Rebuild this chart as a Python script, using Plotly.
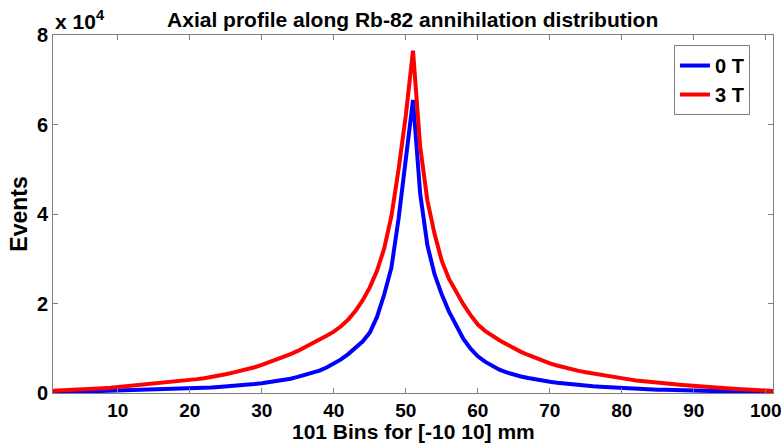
import plotly.graph_objects as go

bins = list(range(1, 102))

# Events (counts) per bin, 0 T
events_0T = [
    100, 150, 200, 200, 250, 300, 300, 350, 380, 400,
    450, 500, 550, 600, 650, 700, 750, 850, 920, 1000,
    1080, 1150, 1250, 1350, 1450, 1550, 1700, 1850, 2000, 2200,
    2400, 2600, 2900, 3200, 3600, 4000, 4400, 5000, 5700, 6500,
    7500, 8700, 10000, 11500, 13500, 17000, 22000, 28000, 39000, 52000,
    65500,
    44500, 33000, 26500, 22000, 18200, 14900, 12100, 9900, 8200,
    7000, 6000, 5200, 4600, 4100, 3700, 3350, 3000, 2750, 2500,
    2300, 2100, 1950, 1800, 1650, 1500, 1400, 1300, 1150, 1050,
    950, 900, 850, 800, 750, 700, 650, 600, 550, 500,
    450, 400, 350, 300, 300, 250, 200, 200, 150, 100, 100,
]

# Events (counts) per bin, 3 T
events_3T = [
    500, 550, 600, 700, 800, 880, 950, 1050, 1150, 1300,
    1420, 1550, 1700, 1850, 2000, 2150, 2300, 2500, 2700, 2900,
    3100, 3300, 3550, 3850, 4200, 4550, 4900, 5300, 5750, 6300,
    6850, 7400, 8000, 8700, 9400, 10200, 11000, 11900, 12800, 13700,
    14900, 16400, 18300, 20700, 23600, 27300, 32300, 39500, 50000, 62000,
    76500,
    55000, 43000, 35500, 29500, 25500, 22500, 19800, 17400, 15300,
    13900, 12800, 11800, 10900, 10000, 9200, 8500, 7800, 7200, 6600,
    6150, 5700, 5300, 4950, 4650, 4350, 4050, 3800, 3550, 3300,
    3050, 2800, 2600, 2450, 2300, 2150, 2000, 1850, 1700, 1600,
    1450, 1350, 1250, 1150, 1000, 900, 800, 700, 600, 500, 450,
]

series_names = ["0 T", "3 T"]
series_colors = ["#0000ff", "#ff0000"]

x_tick_vals = [10, 20, 30, 40, 50, 60, 70, 80, 90, 100]
y_tick_vals = [0, 20000, 40000, 60000, 80000]
y_tick_text = ["0", "2", "4", "6", "8"]

title_text = "Axial profile along Rb-82 annihilation distribution"
x_title = "101 Bins for [-10 10] mm"
y_title = "Events"
exponent_text = "x 10<sup>4</sup>"

FONT = "Liberation Sans, Arial, sans-serif"

fig = go.Figure()
for name, ys, col in zip(series_names, [events_0T, events_3T], series_colors):
    fig.add_trace(go.Scatter(x=bins, y=ys, mode="lines", name=name,
                             line=dict(color=col, width=4)))

axis_common = dict(
    showline=True, linecolor="#7f7f7f", linewidth=1, mirror="ticks",
    ticks="inside", ticklen=5, tickcolor="#7f7f7f", tickwidth=1,
    showgrid=False, zeroline=False, automargin=False,
)

fig.update_layout(
    width=783, height=444,
    margin=dict(l=53, r=10, t=35, b=51, autoexpand=False),
    paper_bgcolor="white", plot_bgcolor="white",
    title=dict(text=title_text, x=0.527, xanchor="center", y=0.972, yanchor="top",
               font=dict(family=FONT, size=21, color="black", weight="bold")),
    xaxis=dict(range=[1, 101], tickvals=x_tick_vals,
               tickfont=dict(family=FONT, size=19, color="black", weight="bold"),
               **axis_common),
    yaxis=dict(range=[0, 80000], tickvals=y_tick_vals, ticktext=y_tick_text,
               tickfont=dict(family=FONT, size=20, color="black", weight="bold"),
               title=dict(text=y_title, standoff=2,
                          font=dict(family=FONT, size=23, color="black", weight="bold")),
               **axis_common),
    legend=dict(x=0.968, xanchor="right", y=0.972, yanchor="top",
                bgcolor="white", bordercolor="#7f7f7f", borderwidth=1,
                font=dict(family=FONT, size=20, color="black", weight="bold"),
                tracegroupgap=0, itemwidth=30),
    showlegend=True,
)

# x-axis title as an annotation so it sits just under the tick labels
fig.add_annotation(text=x_title, xref="paper", yref="paper",
                   x=0.5, y=-0.107, xanchor="center", yanchor="middle", showarrow=False,
                   borderpad=0,
                   font=dict(family=FONT, size=21, color="black", weight="bold"))

fig.add_annotation(text=exponent_text, xref="paper", yref="paper",
                   x=0.0, y=1.0, xanchor="left", yanchor="bottom", showarrow=False,
                   font=dict(family=FONT, size=21, color="black", weight="bold"))

fig.write_html("out.html")
